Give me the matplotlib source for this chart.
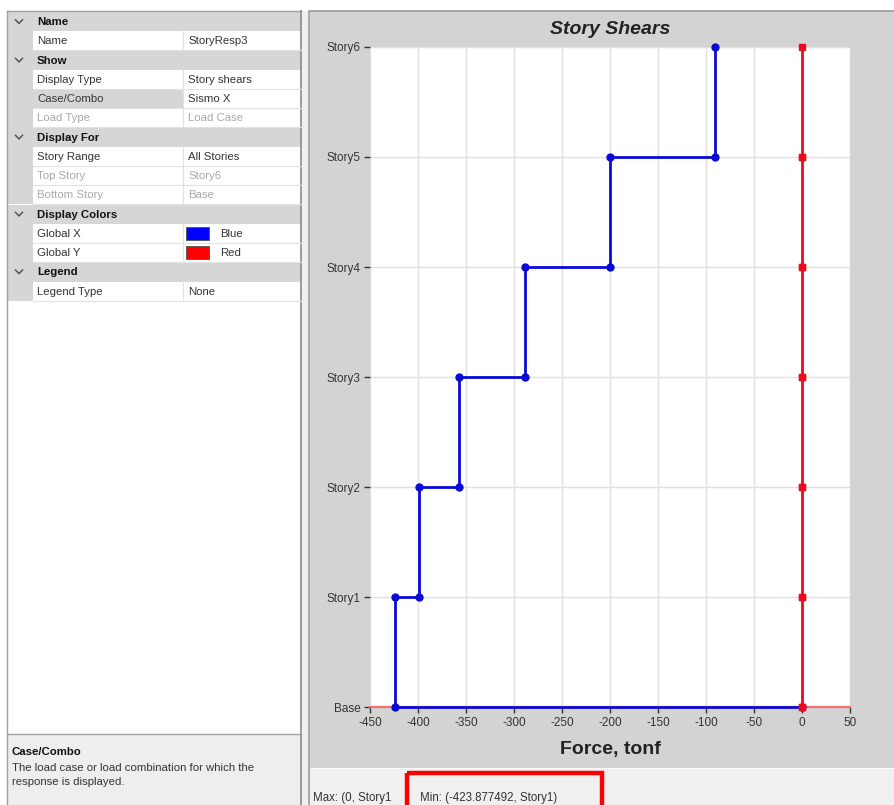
import matplotlib
matplotlib.use("Agg")
import matplotlib.pyplot as plt
from matplotlib.patches import Rectangle
from matplotlib.lines import Line2D

plt.rcParams['font.family'] = ['Liberation Sans', 'DejaVu Sans']
plt.rcParams['axes.unicode_minus'] = False

# ---------------- data ----------------
stories = ["Base", "Story1", "Story2", "Story3", "Story4", "Story5", "Story6"]
shear_x = [-423.877492, -399, -357, -289, -200, -91]   # Story1..Story6 (Global X)
shear_y = [0, 0, 0, 0, 0, 0]                              # Story1..Story6 (Global Y)
base_value = 0
x_ticks = [-450, -400, -350, -300, -250, -200, -150, -100, -50, 0, 50]
x_tick_labels = [str(v) for v in x_ticks]

chart_title = "Story Shears"
x_label = "Force, tonf"

section_names = ["Name", "Show", "Display For", "Display Colors", "Legend"]
row_section = [0, 1, 1, 1, 2, 2, 2, 3, 3, 4]
row_names = ["Name", "Display Type", "Case/Combo", "Load Type", "Story Range",
             "Top Story", "Bottom Story", "Global X", "Global Y", "Legend Type"]
row_values = ["StoryResp3", "Story shears", "Sismo X", "Load Case", "All Stories",
              "Story6", "Base", "Blue", "Red", "None"]
row_disabled = [False, False, False, True, False, True, True, False, False, False]
row_swatch = [None, None, None, None, None, None, None, "#0000ff", "#ff0000", None]
selected_row = "Case/Combo"

desc_title = "Case/Combo"
desc_text = ["The load case or load combination for which the", "response is displayed."]
status_max = "Max: (0, Story1"
status_min = "Min: (-423.877492, Story1)"

# ---------------- figure ----------------
W, H = 894, 805
fig = plt.figure(figsize=(W / 100, H / 100), dpi=100)
fig.patch.set_facecolor("white")
bg = fig.add_axes([0, 0, 1, 1])
bg.set_xlim(0, W)
bg.set_ylim(H, 0)
bg.axis("off")

GFS = 8.2  # property grid font size


def rect(x0, y0, x1, y1, fc, ec="none", lw=0.0, z=1):
    bg.add_patch(Rectangle((x0, y0), x1 - x0, y1 - y0, facecolor=fc,
                           edgecolor=ec, linewidth=lw, zorder=z))


def hline(x0, x1, y, c, lw=1.0, z=3):
    bg.add_line(Line2D([x0, x1], [y, y], color=c, linewidth=lw, zorder=z))


def vline(x, y0, y1, c, lw=1.0, z=3):
    bg.add_line(Line2D([x, x], [y0, y1], color=c, linewidth=lw, zorder=z))


# ---- left property grid ----
GX0, GX1, GDIV, GMARG = 7, 301, 183, 33
rect(0, 0, W, 10, "white")
rect(GX0, 11, GX1, 733, "white")
rect(302, 11, 309, H, "#f0f0f0")
vline(GX0, 11, 733, "#a0a0a0")
hline(GX0, GX1, 11, "#a0a0a0")
vline(GX1, 11, H, "#8a8a8a", 1.2)
vline(309, 11, H, "#9a9a9a", 1.2)

row_h = 19.25
y = 12.0
row_idx = 0
for s, sname in enumerate(section_names):
    # header
    rect(GX0 + 0.5, y, GX1, y + row_h, "#d6d6d6", z=2)
    cy = y + row_h / 2
    bg.add_line(Line2D([15.5, 19, 22.5], [cy - 1.8, cy + 1.8, cy - 1.8],
                       color="#555555", linewidth=1.1, zorder=4))
    bg.text(37, cy + 0.5, sname, fontsize=GFS, fontweight="bold", va="center",
            ha="left", color="#111111", zorder=5)
    y += row_h
    while row_idx < len(row_names) and row_section[row_idx] == s:
        cy = y + row_h / 2
        rect(GX0 + 0.5, y, GMARG, y + row_h, "#d6d6d6", z=2)
        name_fc = "#d6d6d6" if row_names[row_idx] == selected_row else "white"
        rect(GMARG, y, GDIV, y + row_h, name_fc, z=2)
        hline(GMARG, GX1, y + row_h, "#e2e2e2", 0.8)
        vline(GDIV, y, y + row_h, "#e2e2e2", 0.8)
        tc = "#a8a8a8" if row_disabled[row_idx] else "#333333"
        bg.text(37, cy + 0.5, row_names[row_idx], fontsize=GFS, va="center",
                ha="left", color=tc, zorder=5)
        if row_swatch[row_idx] is not None:
            rect(186, y + 3, 209, y + row_h - 3, row_swatch[row_idx],
                 ec="#555555", lw=0.6, z=4)
            bg.text(220, cy + 0.5, row_values[row_idx], fontsize=GFS, va="center",
                    ha="left", color=tc, zorder=5)
        else:
            bg.text(188, cy + 0.5, row_values[row_idx], fontsize=GFS, va="center",
                    ha="left", color=tc, zorder=5)
        y += row_h
        row_idx += 1

# description panel
hline(GX0, GX1, 734, "#a0a0a0", 1.0)
rect(GX0, 735, GX1, H, "#eeeeee")
vline(GX0, 734, H, "#a0a0a0")
bg.text(12, 752, desc_title, fontsize=GFS, fontweight="bold", va="center",
        ha="left", color="#111111", zorder=5)
for i, line in enumerate(desc_text):
    bg.text(12, 768 + 14 * i, line, fontsize=GFS, va="center", ha="left",
            color="#333333", zorder=5)

# ---- right chart panel ----
rect(310, 11, W, 768, "#d3d3d3")
hline(310, W, 11, "#9a9a9a", 1.2)
rect(310, 769, W, H, "#f0f0f0")
bg.text(313, 798, status_max, fontsize=8.3, va="center", ha="left",
        color="#333333", zorder=5)
bg.text(420, 798, status_min, fontsize=8.3, va="center", ha="left",
        color="#333333", zorder=5)
rect(407, 773, 602, 812, "none", ec="#ff0000", lw=3.2, z=6)

# ---- plot axes ----
PX0, PX1, PY0, PY1 = 370, 850, 47, 707
ax = fig.add_axes([PX0 / W, 1 - PY1 / H, (PX1 - PX0) / W, (PY1 - PY0) / H])
ax.set_facecolor("white")
ax.set_xlim(x_ticks[0], x_ticks[-1])
ax.set_ylim(0, len(stories) - 1)

ax.set_xticks(x_ticks)
ax.set_xticklabels(x_tick_labels)
ax.set_yticks(range(len(stories)))
ax.set_yticklabels(stories)
ax.tick_params(axis="both", labelsize=8.5, colors="#333333", length=4,
               width=1.0, pad=3, direction="out")
ax.grid(True, color="#e0e0e0", linewidth=1.0, zorder=0)
for side in ["left", "right", "top"]:
    ax.spines[side].set_visible(False)
ax.spines["bottom"].set_color("#f07070")
ax.spines["bottom"].set_linewidth(1.6)

# step paths
n = len(shear_x)
bx, by, rx, ry = [], [], [], []
for i in range(n, 0, -1):
    bx += [shear_x[i - 1], shear_x[i - 1]]
    by += [i, i - 1]
    rx += [shear_y[i - 1], shear_y[i - 1]]
    ry += [i, i - 1]
bx.append(base_value)
by.append(0)
rx.append(base_value)
ry.append(0)

ax.plot(bx, by, color="#0a0ad8", linewidth=2.0, marker="o", markersize=5,
        zorder=4, clip_on=False)
ax.plot(rx, ry, color="#ee0a1e", linewidth=2.0, marker="s", markersize=5,
        zorder=5, clip_on=False)

ax.set_title(chart_title, fontsize=14, fontweight="bold", fontstyle="italic",
             color="#222222", pad=9)
ax.set_xlabel(x_label, fontsize=14, fontweight="bold", color="#222222",
              labelpad=9)

fig.savefig("out.png", dpi=100, facecolor=fig.get_facecolor())
